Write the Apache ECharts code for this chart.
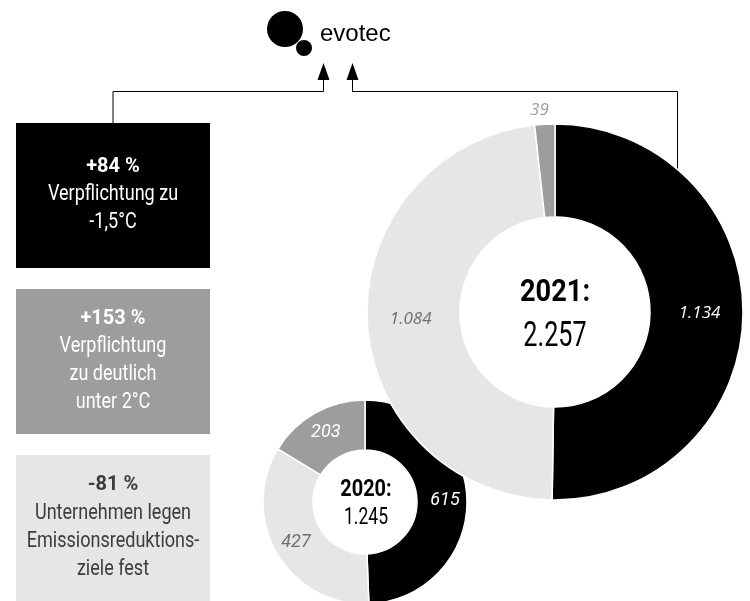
<!DOCTYPE html>
<html>
<head>
<meta charset="utf-8">
<script src="https://cdn.jsdelivr.net/npm/echarts@6/dist/echarts.min.js"></script>
<style>
html, body { margin: 0; padding: 0; background: #fff; }
#chart { width: 750px; height: 601px; }
</style>
</head>
<body>
<div id="chart"></div>
<script>
// Segments, clockwise from 12 o'clock
const segmentNames = ['Verpflichtung zu -1,5°C', 'Emissionsreduktionsziele', 'Verpflichtung zu deutlich unter 2°C'];
const values2021 = [1134, 1084, 39];
const values2020 = [615, 427, 203];
const yearLabels = ['2021:', '2020:'];

// Side boxes: headline change and description lines
const boxHeads = ['+84 %', '+153 %', '-81 %'];
const boxLines = [
  ['Verpflichtung zu', '-1,5°C'],
  ['Verpflichtung', 'zu deutlich', 'unter 2°C'],
  ['Unternehmen legen', 'Emissionsreduktions-', 'ziele fest']
];

const COLORS = ['#000000', '#e6e6e6', '#9d9d9e'];
const BOX_BG = ['#000000', '#9d9d9e', '#e6e6e6'];
const BOX_TEXT = ['#ffffff', '#ffffff', '#3c3c3c'];
const COND = 'Roboto, "Liberation Sans", sans-serif';

const fmt = v => v.toLocaleString('de-DE');
const sum = a => a.reduce((s, v) => s + v, 0);

const chart = echarts.init(document.getElementById('chart'), null, { renderer: 'canvas' });

function ringData(values, labelColors, outsideIdx) {
  return values.map((v, i) => {
    const item = {
      name: segmentNames[i],
      value: v,
      itemStyle: { color: COLORS[i] },
      label: { color: labelColors[i] }
    };
    if (i === outsideIdx) {
      item.label.position = 'outside';
      item.labelLine = { show: false, length: 6, length2: 0 };
    }
    return item;
  });
}

// Side boxes
const graphics = [];
const boxX = 16, boxW = 194;
const boxY = [123, 289, 455];
const boxH = [145, 145, 146];
const lineGap = 28;
boxHeads.forEach((head, b) => {
  graphics.push({
    type: 'rect', z: 1,
    shape: { x: boxX, y: boxY[b], width: boxW, height: boxH[b] },
    style: { fill: BOX_BG[b] }
  });
  const lines = [head].concat(boxLines[b]);
  const cy = boxY[b] + boxH[b] / 2 - 1;
  lines.forEach((t, i) => {
    const isHead = i === 0;
    graphics.push({
      type: 'text', z: 5,
      x: boxX + boxW / 2,
      y: cy + (i - (lines.length - 1) / 2) * lineGap,
      scaleX: isHead ? 1 : 0.82,
      style: {
        text: t,
        fill: BOX_TEXT[b],
        font: (isHead ? 'bold 20px ' : '22px ') + COND,
        textAlign: 'center',
        textVerticalAlign: 'middle'
      }
    });
  });
});

// Ring centres: year and total
const rings = [
  { cx: 555, vals: values2021, yr: yearLabels[0], yb: 293, yt: 337, f1: 32, s1: 0.85, f2: 35, s2: 0.72 },
  { cx: 366, vals: values2020, yr: yearLabels[1], yb: 490, yt: 518, f1: 24, s1: 0.83, f2: 24, s2: 0.73 }
];
rings.forEach(r => {
  graphics.push({
    type: 'text', z: 20, x: r.cx, y: r.yb, scaleX: r.s1,
    style: { text: r.yr, fill: '#000', font: 'bold ' + r.f1 + 'px ' + COND, textAlign: 'center', textVerticalAlign: 'middle' }
  });
  graphics.push({
    type: 'text', z: 20, x: r.cx, y: r.yt, scaleX: r.s2,
    style: { text: fmt(sum(r.vals)), fill: '#000', font: r.f2 + 'px ' + COND, textAlign: 'center', textVerticalAlign: 'middle' }
  });
});

// Connector lines and arrowheads up to the logo
graphics.push({
  type: 'polyline', z: 0,
  shape: { points: [[113, 123], [113, 91.5], [323.5, 91.5], [323.5, 78]] },
  style: { stroke: '#000', lineWidth: 1, fill: null }
});
graphics.push({
  type: 'polyline', z: 0,
  shape: { points: [[677.5, 175], [677.5, 91.5], [352.5, 91.5], [352.5, 78]] },
  style: { stroke: '#000', lineWidth: 1, fill: null }
});
graphics.push({ type: 'polygon', z: 0, shape: { points: [[317.5, 80], [329.5, 80], [323.5, 63]] }, style: { fill: '#000' } });
graphics.push({ type: 'polygon', z: 0, shape: { points: [[346.5, 80], [358.5, 80], [352.5, 63]] }, style: { fill: '#000' } });

// Logo
graphics.push({ type: 'circle', z: 5, shape: { cx: 285, cy: 29, r: 18 }, style: { fill: '#000' } });
graphics.push({ type: 'circle', z: 5, shape: { cx: 304, cy: 48, r: 8 }, style: { fill: '#000' } });
graphics.push({
  type: 'text', z: 5, x: 320, y: 34,
  style: { text: 'evotec', fill: '#000', font: '24px "Liberation Sans", Arial, sans-serif', textAlign: 'left', textVerticalAlign: 'middle' }
});

chart.setOption({
  animation: false,
  backgroundColor: '#ffffff',
  series: [
    {
      type: 'pie', z: 2,
      center: [365, 502],
      radius: [52, 102],
      startAngle: 90,
      clockwise: true,
      avoidLabelOverlap: false,
      itemStyle: { borderColor: '#fff', borderWidth: 1.5 },
      label: {
        show: true, position: 'inside',
        formatter: p => fmt(p.value),
        fontFamily: 'Roboto, sans-serif', fontStyle: 'italic', fontSize: 18
      },
      emphasis: { disabled: true },
      data: ringData(values2020, ['#ffffff', '#6e6e6e', '#ffffff'], -1)
    },
    {
      type: 'pie', z: 3,
      center: [555, 312],
      radius: [95, 188],
      startAngle: 90,
      clockwise: true,
      avoidLabelOverlap: false,
      itemStyle: { borderColor: '#fff', borderWidth: 1.5 },
      label: {
        show: true, position: 'inside',
        formatter: p => fmt(p.value),
        fontFamily: '"Open Sans", sans-serif', fontStyle: 'italic', fontSize: 17
      },
      // the thin top slice gets its value centred just above the ring
      labelLayout: p => p.dataIndex === 2 ? { align: 'center', verticalAlign: 'bottom', dx: 0, dy: 0 } : {},
      emphasis: { disabled: true },
      data: ringData(values2021, ['#ffffff', '#6e6e6e', '#9d9d9e'], 2)
    }
  ],
  graphic: { elements: graphics }
});
</script>
</body>
</html>
